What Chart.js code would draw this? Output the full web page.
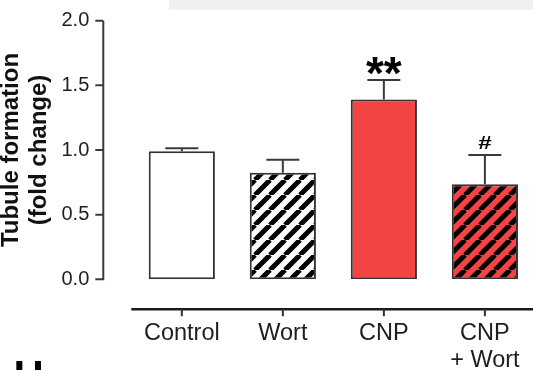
<!DOCTYPE html>
<html>
<head>
<meta charset="utf-8">
<script src="https://cdn.jsdelivr.net/npm/chart.js@4/dist/chart.umd.min.js"></script>
<style>
  html, body { margin: 0; padding: 0; background: #fff; overflow: hidden; }
  #wrap { width: 536px; height: 370px; position: relative; }
</style>
</head>
<body>
<div id="wrap"><canvas id="miGraficaTubulos"></canvas></div>
<script>
// datos
var categorias = [['Control'], ['Wort'], ['CNP'], ['CNP', '+ Wort']];
var medias = [0.99, 0.825, 1.39, 0.735];
var errores = [0.024, 0.10, 0.152, 0.226];
var marcas = ['', '', '**', '#'];
var ticksY = [0, 0.5, 1.0, 1.5, 2.0];
var tituloY = ['Tubule formation', '(fold change)'];

var rojo = '#f44343';
var borde = '#333333';

function crearRayado(fondo) {
  var s = 15;
  var c = document.createElement('canvas');
  c.width = s; c.height = s;
  var ctx = c.getContext('2d');
  ctx.fillStyle = fondo;
  ctx.fillRect(0, 0, s, s);
  ctx.strokeStyle = '#000';
  ctx.lineWidth = 5;
  ctx.beginPath();
  for (var k = -1; k <= 1; k++) {
    ctx.moveTo(k * s, s);
    ctx.lineTo(k * s + s, 0);
  }
  ctx.stroke();
  return ctx.createPattern(c, 'repeat');
}

var rellenos = ['#ffffff', crearRayado('#ffffff'), rojo, crearRayado(rojo)];

var ejesYErrores = {
  id: 'ejesYErrores',
  beforeDraw: function(chart) {
    var ctx = chart.ctx;
    ctx.save();
    ctx.fillStyle = '#f0f0f0';
    ctx.fillRect(169, 0, chart.width - 169, 9.7);
    ctx.restore();
  },
  afterDatasetsDraw: function(chart) {
    var ctx = chart.ctx;
    var area = chart.chartArea;
    var y = chart.scales.y;
    var x = chart.scales.x;
    var meta = chart.getDatasetMeta(0);
    ctx.save();

    // eje Y desplazado
    var xEje = area.left - 28;
    ctx.strokeStyle = '#3a3a3a';
    ctx.lineWidth = 2;
    ctx.beginPath();
    ctx.moveTo(xEje, y.getPixelForValue(ticksY[0]) + 1);
    ctx.lineTo(xEje, y.getPixelForValue(ticksY[ticksY.length - 1]));
    ticksY.forEach(function(v) {
      var py = y.getPixelForValue(v);
      ctx.moveTo(xEje - 8, py);
      ctx.lineTo(xEje, py);
    });
    ctx.stroke();

    // eje X desplazado
    var yEje = area.bottom + 30;
    ctx.strokeStyle = '#1a1a1a';
    ctx.lineWidth = 2.5;
    ctx.beginPath();
    ctx.moveTo(area.left, yEje);
    ctx.lineTo(chart.width, yEje);
    ctx.stroke();
    ctx.lineWidth = 2;
    ctx.strokeStyle = '#333';
    ctx.beginPath();
    for (var i = 0; i < categorias.length; i++) {
      var px = x.getPixelForValue(i);
      ctx.moveTo(px, yEje);
      ctx.lineTo(px, yEje + 7);
    }
    ctx.stroke();

    // barras de error y marcas
    ctx.strokeStyle = '#3a3a3a';
    ctx.lineWidth = 2;
    for (var j = 0; j < medias.length; j++) {
      var bar = meta.data[j];
      var yTop = y.getPixelForValue(medias[j] + errores[j]);
      var yMed = y.getPixelForValue(medias[j]);
      ctx.beginPath();
      ctx.moveTo(bar.x, yMed);
      ctx.lineTo(bar.x, yTop);
      ctx.moveTo(bar.x - 16.5, yTop);
      ctx.lineTo(bar.x + 16.5, yTop);
      ctx.stroke();

      ctx.fillStyle = '#000';
      ctx.textAlign = 'center';
      ctx.textBaseline = 'alphabetic';
      if (marcas[j] == '**') {
        ctx.font = 'bold 46px "Liberation Sans", Arial, sans-serif';
        ctx.fillText(marcas[j], bar.x, yTop + 9);
      } else if (marcas[j] == '#') {
        ctx.save();
        ctx.translate(bar.x, yTop - 6.5);
        ctx.scale(1.35, 1);
        ctx.font = 'bold 18px "Liberation Sans", Arial, sans-serif';
        ctx.fillText(marcas[j], 0, 0);
        ctx.restore();
      }
    }

    // letra del panel (cortada abajo)
    ctx.fillStyle = '#000';
    ctx.textAlign = 'left';
    ctx.textBaseline = 'alphabetic';
    ctx.font = 'bold 42px "Liberation Sans", Arial, sans-serif';
    ctx.fillText('H', 13.5, 389.5);

    ctx.restore();
  }
};

var miCanvas = document.getElementById('miGraficaTubulos').getContext('2d');

var grafica = new Chart(miCanvas, {
  type: 'bar',
  data: {
    labels: categorias,
    datasets: [{
      data: medias,
      backgroundColor: rellenos,
      borderColor: borde,
      borderWidth: 2,
      borderSkipped: false,
      barPercentage: 0.655,
      categoryPercentage: 1.0
    }]
  },
  options: {
    responsive: true,
    maintainAspectRatio: false,
    animation: false,
    events: [],
    layout: { padding: { top: 20.7, right: 0.6, bottom: 0, left: 0 } },
    plugins: {
      legend: { display: false },
      tooltip: { enabled: false }
    },
    scales: {
      x: {
        grid: { display: false, drawTicks: false },
        border: { display: false },
        ticks: {
          padding: 41.3,
          maxRotation: 0,
          autoSkip: false,
          color: '#1e1e1e',
          font: { family: '"Liberation Sans", Arial, sans-serif', size: 23.5, lineHeight: 1.13 }
        },
        afterFit: function(scale) {
          scale.height = 90.7;
          scale.paddingLeft = 0;
          scale.paddingRight = 0;
        }
      },
      y: {
        min: 0,
        max: 2,
        grid: { display: false, drawTicks: false },
        border: { display: false },
        afterBuildTicks: function(scale) {
          scale.ticks = ticksY.map(function(v) { return { value: v }; });
        },
        ticks: {
          padding: 42,
          color: '#1e1e1e',
          font: { family: '"Liberation Sans", Arial, sans-serif', size: 20 },
          callback: function(v) { return Number(v).toFixed(1); }
        },
        title: {
          display: true,
          text: tituloY,
          color: '#111',
          padding: { top: -2, bottom: 0 },
          font: { family: '"Liberation Sans", Arial, sans-serif', size: 24, weight: 'bold', lineHeight: 1.15 }
        },
        afterFit: function(scale) {
          scale.width = 131.3;
          scale.paddingTop = 0;
          scale.paddingBottom = 0;
        }
      }
    }
  },
  plugins: [ejesYErrores]
});
</script>
</body>
</html>
